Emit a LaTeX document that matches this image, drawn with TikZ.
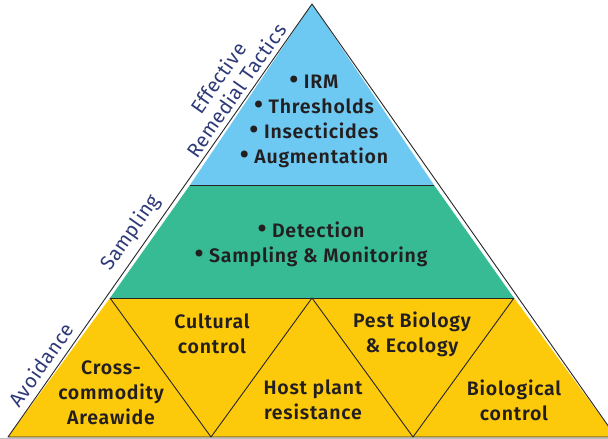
\documentclass[tikz,border=0pt]{standalone}
\usepackage{fontspec}
\setmainfont{Fira Sans}[BoldFont={Fira Sans SemiBold}]
\newfontfamily\lblfont{Fira Sans SemiBold}[LetterSpace=4]
\newfontfamily\sidefont{Fira Sans}[LetterSpace=2]
\definecolor{tblue}{HTML}{6DC9F1}
\definecolor{tgreen}{HTML}{36BB94}
\definecolor{tyellow}{HTML}{FDC90B}
\definecolor{ttext}{HTML}{231F20}
\definecolor{tnavy}{HTML}{2E3A78}
\newcommand{\bul}{\raisebox{-0.5pt}{\scalebox{1.35}{\textbullet}}\ }
\begin{document}
\begin{tikzpicture}[x=1pt,y=-1pt,
  edge/.style={draw=black!85,line width=0.9pt,line join=round},
  lbl/.style={text=ttext,font=\lblfont\fontsize{19.5}{25}\selectfont,align=center,inner sep=0pt},
  side/.style={text=tnavy,font=\sidefont\fontsize{20}{22}\selectfont,align=center,rotate=55,inner sep=0pt}]
\useasboundingbox (0,0) rectangle (608,439);
\clip (0,0) rectangle (608,439);
% coordinates
\coordinate (apex) at (312,4);
\coordinate (bl) at (190,185);
\coordinate (br) at (434,185);
\coordinate (gl) at (110,298);
\coordinate (gm) at (312,298);
\coordinate (gr) at (514,298);
\coordinate (y0) at (8,437);
\coordinate (y1) at (211,437);
\coordinate (y2) at (413,437);
\coordinate (y3) at (616,437);
% layers
\fill[tblue] (apex) -- (bl) -- (br) -- cycle;
\fill[tgreen] (bl) -- (br) -- (gr) -- (gl) -- cycle;
\fill[tyellow] (gl) -- (gr) -- (y3) -- (y0) -- cycle;
\draw[edge] (apex) -- (y0) -- (y3) -- cycle;
\draw[edge] (bl) -- (br);
\draw[edge] (gl) -- (gr);
\draw[edge] (gl) -- (y1) -- (gm) -- (y2) -- (gr);
\draw[black!25,line width=0.8pt] (0,438.6) -- (608,438.6);
% texts
\node[lbl] (tac) at (314,121) {\bul IRM\\\bul Thresholds\\\bul Insecticides\\\bul Augmentation};
\node[lbl] (smp) at (311,244) {\bul Detection\\\bul Sampling \& Monitoring};
\node[lbl] (cc) at (111,393) {Cross-\\commodity\\Areawide};
\node[lbl] (cul) at (212,334) {Cultural\\control};
\node[lbl] (hpr) at (313,400) {Host plant\\resistance};
\node[lbl] (pbe) at (412,334) {Pest Biology\\\& Ecology};
\node[lbl] (bio) at (514,400) {Biological\\control};
\node[side] (eff) at (227,84) {Effective\\Remedial Tactics};
\node[side] (sam) at (131,233) {Sampling};
\node[side] (avo) at (41,365) {Avoidance};
\end{tikzpicture}
\end{document}
